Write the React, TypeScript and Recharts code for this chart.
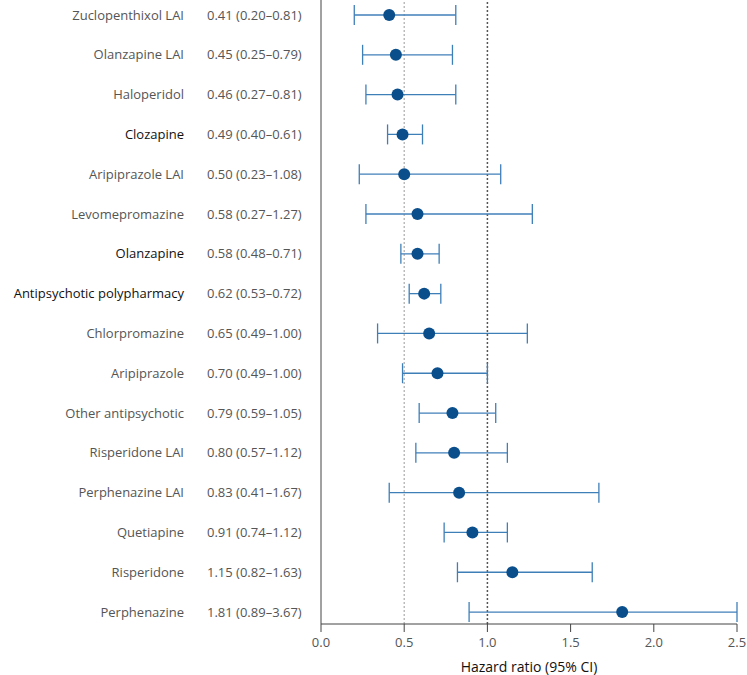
import React from 'react';
import { ScatterChart, Scatter, XAxis, YAxis, ErrorBar, ReferenceLine } from 'recharts';

const drugNames = [
  'Zuclopenthixol LAI', 'Olanzapine LAI', 'Haloperidol', 'Clozapine', 'Aripiprazole LAI',
  'Levomepromazine', 'Olanzapine', 'Antipsychotic polypharmacy', 'Chlorpromazine', 'Aripiprazole',
  'Other antipsychotic', 'Risperidone LAI', 'Perphenazine LAI', 'Quetiapine', 'Risperidone', 'Perphenazine',
];
const hrLabels = [
  '0.41 (0.20–0.81)', '0.45 (0.25–0.79)', '0.46 (0.27–0.81)', '0.49 (0.40–0.61)', '0.50 (0.23–1.08)',
  '0.58 (0.27–1.27)', '0.58 (0.48–0.71)', '0.62 (0.53–0.72)', '0.65 (0.49–1.00)', '0.70 (0.49–1.00)',
  '0.79 (0.59–1.05)', '0.80 (0.57–1.12)', '0.83 (0.41–1.67)', '0.91 (0.74–1.12)', '1.15 (0.82–1.63)', '1.81 (0.89–3.67)',
];
const highlighted = [false, false, false, true, false, false, true, true, false, false, false, false, false, false, false, false];
const hazardRatio = [0.41, 0.45, 0.46, 0.49, 0.50, 0.58, 0.58, 0.62, 0.65, 0.70, 0.79, 0.80, 0.83, 0.91, 1.15, 1.81];
// drawn interval ends (upper end clipped at the axis max)
const ciLow = [0.20, 0.25, 0.27, 0.40, 0.23, 0.27, 0.48, 0.53, 0.34, 0.49, 0.59, 0.57, 0.41, 0.74, 0.82, 0.89];
const ciHigh = [0.81, 0.79, 0.81, 0.61, 1.08, 1.27, 0.71, 0.72, 1.24, 1.00, 1.05, 1.12, 1.67, 1.12, 1.63, 2.50];
const xTicks = [0, 0.5, 1.0, 1.5, 2.0, 2.5];
const xTitle = 'Hazard ratio (95% CI)';

const data = hazardRatio.map((hr, i) => ({
  x: hr,
  y: i,
  err: [hr - ciLow[i], ciHigh[i] - hr],
}));

const FONT = '"Open Sans", sans-serif';

const RowTick = (props: any) => {
  const { y, payload } = props;
  const i = payload.value as number;
  if (i < 0 || i >= drugNames.length || !Number.isInteger(i)) return null;
  const hi = highlighted[i];
  return (
    <g>
      <text x={184} y={y} dy={4.5} textAnchor="end" fontFamily={FONT} fontSize={13}
        fill={hi ? '#111' : '#555'} fontWeight={hi ? 500 : 400}>{drugNames[i]}</text>
      <text x={207} y={y} dy={4.5} textAnchor="start" fontFamily={FONT} fontSize={13} fill="#555">{hrLabels[i]}</text>
    </g>
  );
};

const Dot = (props: any) => {
  const { cx, cy } = props;
  return <circle cx={cx} cy={cy} r={6} fill="#0a4f8c" />;
};

const AxisTitle = (props: any) => {
  const vb = props.viewBox || {};
  const cx = (vb.x ?? 321) + (vb.width ?? 416) / 2;
  const top = vb.y ?? 624;
  return (
    <text x={cx} y={top + 48} textAnchor="middle" fontFamily={FONT} fontSize={14} fill="#111">{xTitle}</text>
  );
};

export default function App() {
  return (
    <div style={{ position: 'absolute', left: 0, top: 0, width: 747, height: 675, background: '#fff', overflow: 'hidden' }}>
      <ScatterChart width={747} height={675} margin={{ top: 0, right: 10, bottom: 0, left: 0 }}>
        <XAxis
          type="number"
          dataKey="x"
          domain={[0, 2.5]}
          ticks={xTicks}
          tickFormatter={(v: number) => v.toFixed(1)}
          allowDataOverflow
          height={51}
          stroke="#444"
          tickSize={8}
          tick={{ fill: '#555', fontSize: 13, fontFamily: FONT }}
          tickMargin={6}
          label={<AxisTitle />}
        />
        <YAxis
          type="number"
          dataKey="y"
          domain={[-0.377, 15.3]}
          reversed
          allowDataOverflow
          ticks={drugNames.map((_, i) => i)}
          tick={<RowTick />}
          tickLine={false}
          width={321}
          stroke="#444"
        />
        <ReferenceLine x={0.5} stroke="#aaa" strokeDasharray="2 2" strokeWidth={1.2} />
        <ReferenceLine x={1.0} stroke="#555" strokeDasharray="2 2" strokeWidth={1.5} />
        <Scatter data={data} shape={<Dot />} isAnimationActive={false}>
          <ErrorBar dataKey="err" direction="x" width={10} stroke="#3f7fb8" strokeWidth={1.3} isAnimationActive={false} />
        </Scatter>
      </ScatterChart>
    </div>
  );
}
